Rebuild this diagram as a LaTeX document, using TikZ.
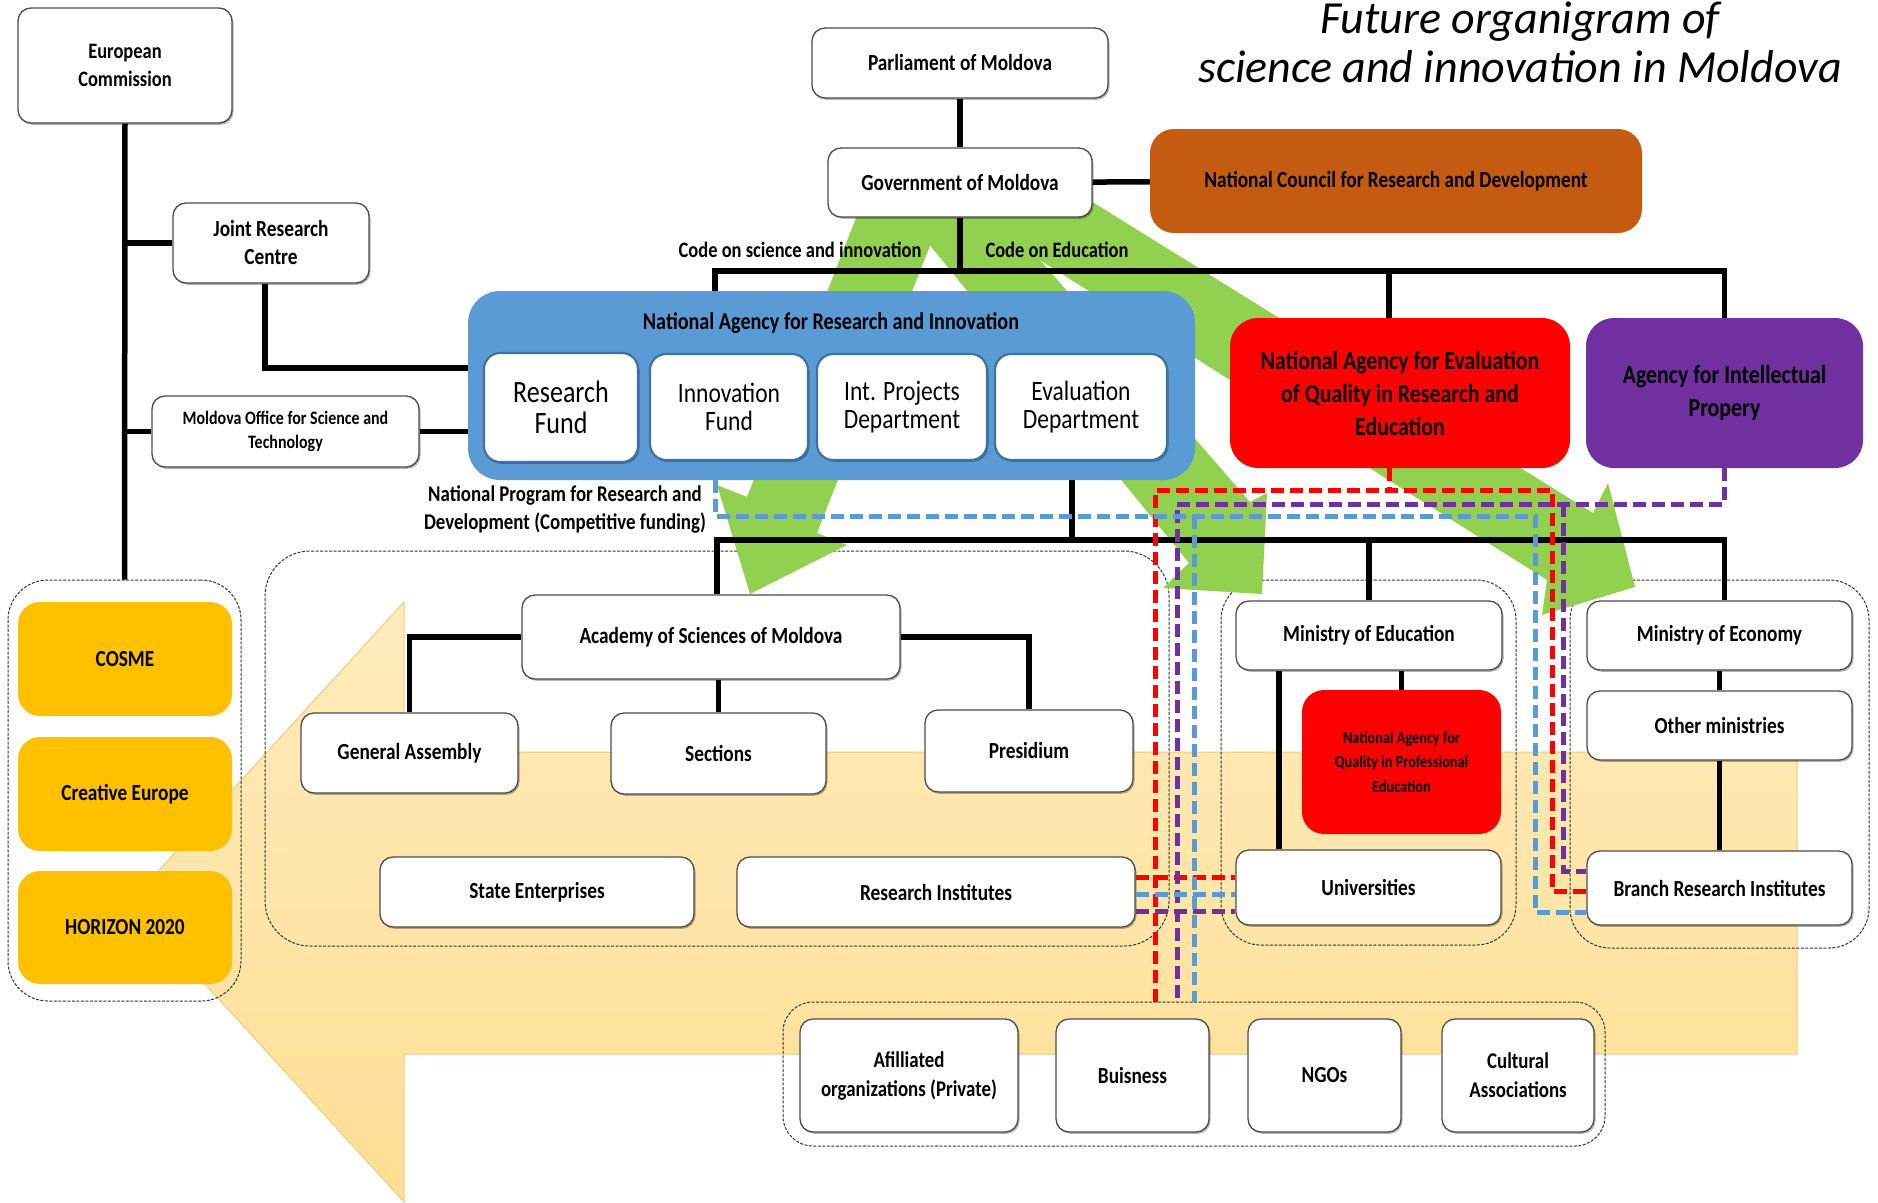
\documentclass[tikz,border=0pt]{standalone}
\usepackage{fontspec}
\setmainfont{Carlito}
\newfontfamily\cf{Carlito}[FakeStretch=0.84]
\usetikzlibrary{shadows}
\definecolor{gr}{RGB}{146,208,80}
\definecolor{nblue}{RGB}{91,155,213}
\definecolor{nred}{RGB}{255,0,0}
\definecolor{npur}{RGB}{112,48,160}
\definecolor{norg}{RGB}{197,90,17}
\definecolor{nyel}{RGB}{255,192,0}
\definecolor{subbd}{RGB}{65,113,156}
\definecolor{arA}{RGB}{255,236,188}
\definecolor{arB}{RGB}{253,222,148}
\definecolor{arE}{RGB}{242,203,125}
\begin{document}
\begin{tikzpicture}[x=1pt,y=-1pt,
  lbl/.style={font=\cf\bfseries\fontsize{23}{28}\selectfont, align=center, text=black},
  wbox/.style={lbl, draw=black!70, line width=1.3pt, fill=white, rounded corners=13pt, inner sep=2pt,
     drop shadow={shadow xshift=1.5pt,shadow yshift=-1.8pt,opacity=0.3,fill=black}},
  subbox/.style={draw=subbd, line width=2.2pt, fill=white, rounded corners=16pt, align=center, inner sep=2pt,
     font=\cf\fontsize{28}{28}\selectfont,
     drop shadow={shadow xshift=1.5pt,shadow yshift=-1.8pt,opacity=0.3,fill=black}},
  ybox/.style={lbl, fill=nyel, rounded corners=22pt},
  cont/.style={draw=black!80, dash pattern=on 3pt off 1.5pt, line width=1pt, rounded corners=40pt, inner sep=0pt},
  conn/.style={line width=5.5pt, black},
  dsh/.style={line width=5pt, dash pattern=on 13pt off 6pt},
  rdash/.style={dsh, nred},
  pdash/.style={dsh, npur},
  bdash/.style={dsh, nblue},
  garrow/.style={fill=gr, draw=none}
]
\fill[white] (0,0) rectangle (1878,1202);
\useasboundingbox (0,0) rectangle (1878,1202);

% big light orange arrow
\path[draw=arE, line width=1pt, top color=arA, bottom color=arB]
  (130,902) -- (404,602) -- (404,752) -- (1797,752) -- (1797,1054) -- (404,1054) -- (404,1202) -- cycle;

% containers
\node[cont, minimum width=233pt, minimum height=421pt] (leftc) at (124.5,790.5) {};
\node[cont, rounded corners=45pt, minimum width=904pt, minimum height=395pt] (asc) at (717,748.5) {};
\node[cont, minimum width=295pt, minimum height=365pt] (mec) at (1368.5,762.5) {};
\node[cont, minimum width=299pt, minimum height=368pt] (mecc) at (1719.5,764) {};
\node[cont, rounded corners=30pt, minimum width=822pt, minimum height=144pt] (affc) at (1194,1074) {};

% green arrows
\fill[garrow] (863,200) -- (747,497) -- (717,485) -- (750,594) -- (847,545) -- (817,533) -- (948,200) -- cycle;
\fill[garrow] (893,200) -- (1189,563) -- (1163,588) -- (1262,594) -- (1267,493) -- (1250,502) -- (988,200) -- cycle;
\fill[garrow] (1057,180) -- (1593,513) -- (1608,483) -- (1635,587) -- (1542,615) -- (1547,580) -- (913,180) -- cycle;

% title
\node[font=\itshape\fontsize{46}{52}\selectfont, anchor=base] (t1) at (1520,33) {Future organigram of};
\node[font=\itshape\fontsize{46}{52}\selectfont, anchor=base] (t2) at (1520,82) {science and innovation in Moldova};

% top nodes
\node[wbox, minimum width=214pt, minimum height=115pt, font=\cf\bfseries\fontsize{22}{28}\selectfont] (ec) at (125,65.5) {European\\Commission};
\node[wbox, minimum width=196pt, minimum height=80pt] (jrc) at (271,243) {Joint Research\\Centre};
\node[wbox, minimum width=267pt, minimum height=71pt, font=\cf\bfseries\fontsize{19}{24}\selectfont] (most) at (285.5,431.5) {Moldova Office for Science and\\Technology};
\node[wbox, minimum width=296pt, minimum height=70pt] (parl) at (960,63) {Parliament of Moldova};
\node[wbox, minimum width=264pt, minimum height=69pt] (gov) at (960,182.5) {Government of Moldova};
\node[lbl, fill=norg, rounded corners=24pt, minimum width=492pt, minimum height=104pt] (ncrd) at (1396,181) {National Council for Research and Development};

\node[lbl, font=\cf\bfseries\fontsize{22}{28}\selectfont] (code1) at (800,250) {Code on science and innovation};
\node[lbl, font=\cf\bfseries\fontsize{22}{28}\selectfont] (code2) at (1057,250) {Code on Education};

% NARI
\node[fill=nblue, rounded corners=32pt, minimum width=727pt, minimum height=189pt] (nari) at (831.5,385.5) {};
\node[lbl, font=\cf\bfseries\fontsize{24}{28}\selectfont] (naritit) at (831,323) {National Agency for Research and Innovation};
\node[subbox, minimum width=154pt, minimum height=109pt, font=\cf\fontsize{31}{31}\selectfont] (rf) at (561,407.5) {Research\\Fund};
\node[subbox, minimum width=158pt, minimum height=106pt] (inf) at (729,407) {Innovation\\Fund};
\node[subbox, minimum width=170pt, minimum height=106pt] (ipd) at (902,407) {Int. Projects\\Department};
\node[subbox, minimum width=172pt, minimum height=106pt] (evd) at (1081,407) {Evaluation\\Department};

\node[lbl, fill=nred, rounded corners=28pt, minimum width=340pt, minimum height=150pt, font=\cf\bfseries\fontsize{26}{33}\selectfont] (red) at (1400,393) {National Agency for Evaluation\\of Quality in Research and\\Education};
\node[lbl, fill=npur, rounded corners=28pt, minimum width=277pt, minimum height=150pt, font=\cf\bfseries\fontsize{26}{33}\selectfont] (purp) at (1724.5,393) {Agency for Intellectual\\Propery};

\node[lbl, font=\cf\bfseries\fontsize{22.5}{28}\selectfont] (npr) at (565,509) {National Program for Research and\\Development (Competitive funding)};

% EU programmes
\node[ybox, minimum width=214pt, minimum height=114pt] (cosme) at (125,659) {COSME};
\node[ybox, minimum width=214pt, minimum height=114pt] (ce) at (125,794) {Creative Europe};
\node[ybox, minimum width=214pt, minimum height=113pt] (h2020) at (125,927.5) {HORIZON 2020};

% Academy group
\node[wbox, minimum width=378pt, minimum height=84pt] (acad) at (711,637) {Academy of Sciences of Moldova};
\node[wbox, minimum width=217pt, minimum height=80pt] (ga) at (409.5,753) {General Assembly};
\node[wbox, minimum width=215pt, minimum height=81pt] (sec) at (718.5,753.5) {Sections};
\node[wbox, minimum width=208pt, minimum height=82pt] (pres) at (1029,751) {Presidium};
\node[wbox, minimum width=314pt, minimum height=70pt] (se) at (537,892) {State Enterprises};
\node[wbox, minimum width=398pt, minimum height=70pt] (ri) at (936,892) {Research Institutes};

% Education group
\node[wbox, minimum width=266pt, minimum height=69pt] (minedu) at (1369,635.5) {Ministry of Education};
\node[lbl, fill=nred, rounded corners=22pt, minimum width=199pt, minimum height=144pt, font=\cf\bfseries\fontsize{17}{24.5}\selectfont] (naqpe) at (1401.5,762) {National Agency for\\Quality in Professional\\Education};
\node[wbox, minimum width=265pt, minimum height=75pt] (univ) at (1368.5,887.5) {Universities};

% Economy group
\node[wbox, minimum width=265pt, minimum height=69pt] (minecon) at (1719.5,635.5) {Ministry of Economy};
\node[wbox, minimum width=265pt, minimum height=69pt] (other) at (1719.5,725.5) {Other ministries};
\node[wbox, minimum width=265pt, minimum height=74pt] (branch) at (1719.5,888) {Branch Research Institutes};

% private etc
\node[wbox, minimum width=218pt, minimum height=113pt, font=\cf\bfseries\fontsize{22.5}{29}\selectfont] (afil) at (909,1075.5) {Afilliated\\organizations (Private)};
\node[wbox, minimum width=153pt, minimum height=113pt] (buis) at (1132.5,1075.5) {Buisness};
\node[wbox, minimum width=153pt, minimum height=113pt] (ngo) at (1324.5,1075.5) {NGOs};
\node[wbox, minimum width=152pt, minimum height=113pt, font=\cf\bfseries\fontsize{22.5}{29}\selectfont] (cult) at (1518,1075.5) {Cultural\\Associations};

% helper coordinates
\coordinate (busA) at (0,271);
\coordinate (busB) at (0,540);
\coordinate (jrcd) at ([xshift=-6pt]jrc.south);
\coordinate (naritop) at ([xshift=-116.5pt]nari.north);
\coordinate (redtop) at ([xshift=-11pt]red.north);
\coordinate (redbot) at ([xshift=-11pt]red.south);
\coordinate (naribot) at ([xshift=240.5pt]nari.south);
\coordinate (acadtop) at ([xshift=6pt]acad.north);
\coordinate (mectop) at ([xshift=5pt]minecon.north);
\coordinate (mu) at ([xshift=-90pt]minedu.south);

% black connectors
\draw[conn] (ec.south) -- (leftc.north);
\draw[conn] (jrc.west) -- (jrc.west -| ec.south);
\draw[conn] (most.west) -- (most.west -| ec.south);
\draw[conn] (most.east) -- (most.east -| nari.west);
\draw[conn] (jrcd) |- (nari.west |- 0,368);
\draw[conn] (parl) -- (gov);
\draw[conn] (gov) -- (ncrd);
\draw[conn] (gov.south) -- (gov.south |- busA);
\draw[conn, line join=miter] (naritop) |- (purp.north |- busA) -- (purp.north);
\draw[conn] (redtop |- busA) -- (redtop);
\draw[conn] (naribot) -- (naribot |- busB);
\draw[conn, line join=miter] (acadtop) |- (mectop |- busB) -- (mectop);
\draw[conn] (minedu.north |- busB) -- (minedu.north);
\draw[conn, line join=miter] (acad.west) -| (ga.north);
\draw[conn, line join=miter] (acad.east) -| (pres.north);
\draw[conn] (sec.north |- acad.south) -- (sec.north);
\draw[conn] (minedu.south -| naqpe.north) -- (naqpe.north);
\draw[conn] (mu) -- (mu |- univ.north);
\draw[conn] (minecon) -- (other);
\draw[conn] (other) -- (branch);

% coloured dashed links
\draw[rdash] (redbot) -- (redbot |- 0,490);
\draw[rdash] (affc.north -| 1155,0) |- (1552,490) |- (branch.west |- 0,891);
\draw[rdash] (ri.east |- 0,877) -- (univ.west |- 0,877);

\draw[pdash] (purp.south) -- (purp.south |- 0,504) -| (affc.north -| 1177,0);
\draw[pdash] (1563,504) |- (branch.west |- 0,871);
\draw[pdash] (ri.east |- 0,911) -- (univ.west |- 0,911);

\draw[bdash] (nari.south -| 715,0) |- (1535,516) |- (branch.west |- 0,912);
\draw[bdash] (1194,516) -- (affc.north -| 1194,0);
\draw[bdash] (ri.east |- 0,894) -- (univ.west |- 0,894);
\end{tikzpicture}
\end{document}
